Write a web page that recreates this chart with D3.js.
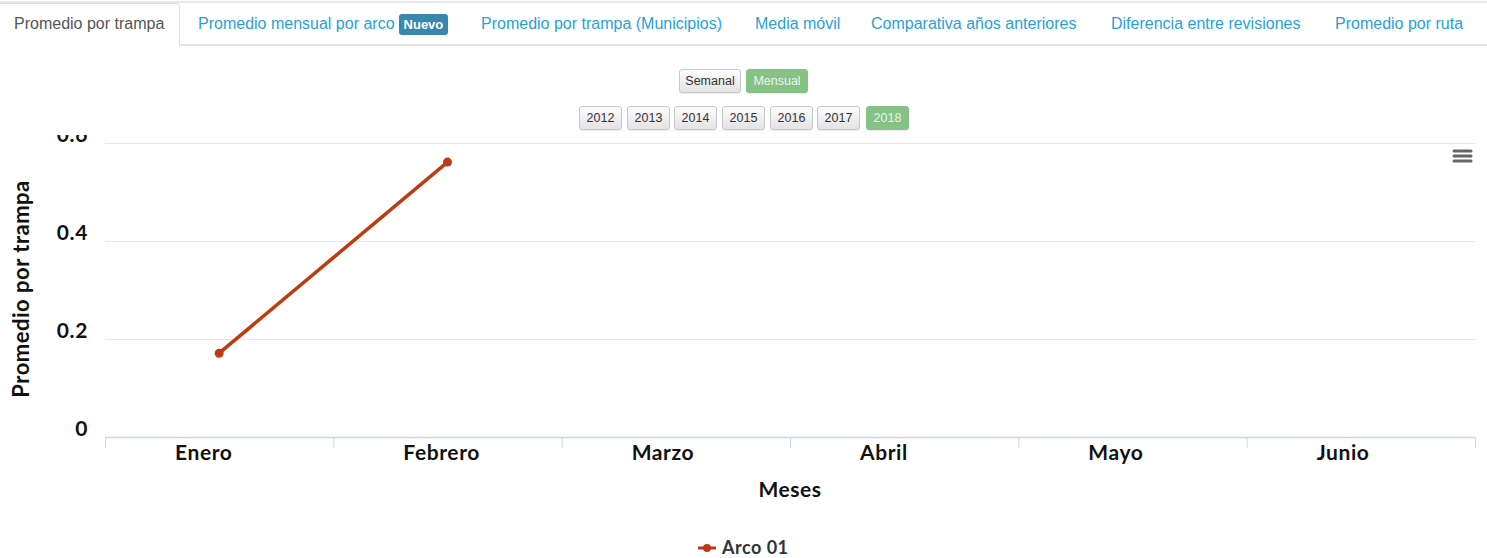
<!DOCTYPE html>
<html><head><meta charset="utf-8">
<script src="https://cdn.jsdelivr.net/npm/d3@7"></script>
<style>
html,body{margin:0;padding:0;background:#fff;width:1487px;height:558px;overflow:hidden;position:relative;font-family:"Liberation Sans",Arial,sans-serif;}
#topline{position:absolute;left:0;top:1px;width:1487px;height:2px;background:#e8e8e8;}
#navline{position:absolute;left:180px;top:44px;width:1307px;height:2px;background:#e4e4e4;}
#activetab{position:absolute;left:-3px;top:3px;width:181px;height:42px;background:#fff;border:1px solid #e0e0e0;border-bottom:none;border-radius:0 4px 0 0;}
.tab{position:absolute;top:14px;font-size:16px;line-height:20px;color:#2a9fd6;white-space:nowrap;}
.tab.active{color:#555;}
.badge{display:inline-block;background:#3a87ad;color:#fff;font-family:"Liberation Sans Narrow","Liberation Sans",Arial;font-weight:bold;font-size:13px;line-height:21px;padding:0 5px;border-radius:3px;margin-left:4px;vertical-align:top;}
.btn{position:absolute;height:24px;box-sizing:border-box;border:1px solid #c8c8c8;border-radius:3px;background:linear-gradient(#fdfdfd,#e3e3e3);font-size:12.5px;color:#333;text-align:center;line-height:22px;box-shadow:0 1px 1px rgba(0,0,0,0.08);}
.btn.on{background:#86c186;border-color:#86c186;color:#eaf6ea;}
svg{position:absolute;left:0;top:0;}
</style></head><body>
<div id="topline"></div>
<div id="navline"></div>
<div id="activetab"></div>
<div id="tabs"></div>
<div id="btns"></div>
<svg id="chart" width="1487" height="558"></svg>
<script>
const tabs = ["Promedio por trampa","Promedio mensual por arco","Promedio por trampa (Municipios)","Media móvil","Comparativa años anteriores","Diferencia entre revisiones","Promedio por ruta"];
const tabX = [14,198,481,755,871,1111,1335];
const periods = ["Semanal","Mensual"];
const years = ["2012","2013","2014","2015","2016","2017","2018"];
const categories = ["Enero","Febrero","Marzo","Abril","Mayo","Junio"];
const seriesName = "Arco 01";
const values = [0.171, 0.561, null, null, null, null];
const yTicks = [0, 0.2, 0.4, 0.6];

// tabs
const tabDiv = d3.select("#tabs");
tabs.forEach((t,i)=>{
  const d = tabDiv.append("div").attr("class","tab"+(i===0?" active":"")).style("left",tabX[i]+"px").text(t);
  if(i===1) d.append("span").attr("class","badge").text("Nuevo");
});
// buttons
const bd = d3.select("#btns");
const pX=[679,746], yX=[579,627,674,722,770,817,866];
periods.forEach((p,i)=>bd.append("div").attr("class","btn"+(p==="Mensual"?" on":"")).style("left",pX[i]+"px").style("top","69px").style("width","62px").text(p));
years.forEach((y,i)=>bd.append("div").attr("class","btn"+(y==="2018"?" on":"")).style("left",yX[i]+"px").style("top","106px").style("width","43px").text(y));

const svg = d3.select("#chart");
const L=105,R=1475,T=143,B=437;
svg.append("defs").append("clipPath").attr("id","clipTop").append("rect").attr("x",0).attr("y",135).attr("width",1487).attr("height",423);
const g = svg.append("g").attr("clip-path","url(#clipTop)");
const x = d3.scaleBand().domain(categories).range([L,R]).padding(0);
const y = d3.scaleLinear().domain([0,0.6]).range([B,T]);
const font = "Lato, 'Open Sans', sans-serif";

// gridlines
g.append("g").selectAll("line").data(yTicks.filter(v=>v>0)).join("line")
  .attr("x1",L).attr("x2",R).attr("y1",d=>y(d)+0.5).attr("y2",d=>y(d)+0.5)
  .attr("stroke","#e8e8e8").attr("stroke-width",1);

// y axis labels
const ya = g.append("g").attr("transform",`translate(${L},0)`).call(d3.axisLeft(y).tickValues(yTicks).tickFormat(d=>d===0?"0":d3.format(".1f")(d)).tickSize(0).tickPadding(17));
ya.select(".domain").remove();
ya.selectAll("text").attr("font-family",font).attr("font-weight","bold").attr("font-size","21px").attr("letter-spacing","0.6px").attr("fill","#111").attr("dy","-0.08em");

// x axis
const xa = g.append("g").attr("transform",`translate(0,${B})`).call(d3.axisBottom(x).tickSize(0).tickPadding(8));
xa.select(".domain").attr("stroke","#ccd6eb").attr("stroke-width",1.5).attr("d",`M${L},0.5H${R}`);
xa.selectAll("text").attr("font-family",font).attr("font-weight","bold").attr("font-size","21px").attr("letter-spacing","0.6px").attr("fill","#111").attr("dy","0.7em")
  .attr("text-anchor","start").attr("x",-x.bandwidth()/2+70);
const bounds = categories.map(c=>x(c)).concat([x(categories[categories.length-1])+x.bandwidth()]);
g.append("g").selectAll("line").data(bounds).join("line")
  .attr("x1",d=>d+0.5).attr("x2",d=>d+0.5).attr("y1",B).attr("y2",B+11).attr("stroke","#ccd6eb").attr("stroke-width",1);

// axis titles
g.append("text").attr("x",790).attr("y",497).attr("text-anchor","middle").attr("font-family",font).attr("font-weight","bold").attr("font-size","21px").attr("letter-spacing","0.5px").attr("fill","#111").text("Meses");
g.append("text").attr("transform","translate(29,289) rotate(-90)").attr("text-anchor","middle").attr("font-family",font).attr("font-weight","bold").attr("font-size","22px").attr("letter-spacing","0.5px").attr("fill","#111").text("Promedio por trampa");

// series
const color="#bf3a10";
const pts = categories.map((c,i)=>({c,v:values[i]})).filter(d=>d.v!=null);
const line = d3.line().x(d=>x(d.c)+x.bandwidth()/2).y(d=>y(d.v));
g.append("path").datum(pts).attr("d",line).attr("fill","none").attr("stroke",color).attr("stroke-width",3.5).attr("stroke-linejoin","round");
g.append("g").selectAll("circle").data(pts).join("circle").attr("cx",d=>x(d.c)+x.bandwidth()/2).attr("cy",d=>y(d.v)).attr("r",4.5).attr("fill",color);

// menu icon
[0,5,10].forEach(o=>g.append("line").attr("x1",1454).attr("x2",1471).attr("y1",151+o).attr("y2",151+o).attr("stroke","#666").attr("stroke-width",3).attr("stroke-linecap","round"));

// legend
const lg = svg.append("g");
lg.append("line").attr("x1",698).attr("x2",716).attr("y1",548).attr("y2",548).attr("stroke",color).attr("stroke-width",3);
lg.append("circle").attr("cx",707).attr("cy",548).attr("r",4).attr("fill",color);
lg.append("text").attr("x",722).attr("y",554).attr("font-family",font).attr("font-weight","bold").attr("font-size","18px").attr("letter-spacing","0.5px").attr("fill","#333").text(seriesName);
</script>
</body></html>
